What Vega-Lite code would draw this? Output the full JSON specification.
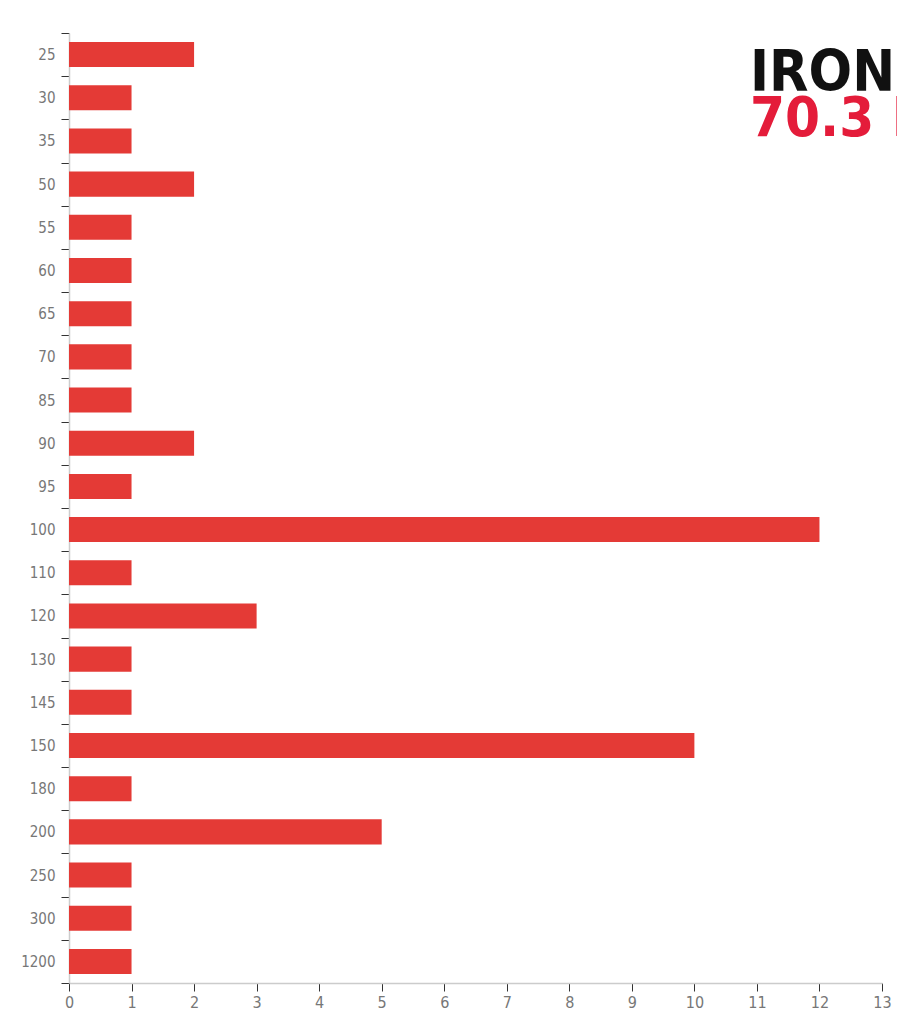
{
  "$schema": "https://vega.github.io/schema/vega-lite/v6.json",
  "autosize": {"type": "none"},
  "padding": {"left": 69, "top": 33, "right": 15, "bottom": 31},
  "width": 813,
  "height": 950,
  "background": "#ffffff",
  "title": {
    "text": "IRONMAN",
    "subtitle": "70.3 LANZAROTE",
    "anchor": "start",
    "frame": "group",
    "orient": "top",
    "dx": 681,
    "offset": -122,
    "font": "DejaVu Sans Condensed, sans-serif",
    "fontSize": 57,
    "fontWeight": "bold",
    "color": "#111111",
    "subtitleFont": "DejaVu Sans Condensed, sans-serif",
    "subtitleFontSize": 56,
    "subtitleFontWeight": "bold",
    "subtitleColor": "#e41c3a",
    "subtitlePadding": -11
  },
  "data": {
    "values": [
      {"distancia": 25, "n": 2},
      {"distancia": 30, "n": 1},
      {"distancia": 35, "n": 1},
      {"distancia": 50, "n": 2},
      {"distancia": 55, "n": 1},
      {"distancia": 60, "n": 1},
      {"distancia": 65, "n": 1},
      {"distancia": 70, "n": 1},
      {"distancia": 85, "n": 1},
      {"distancia": 90, "n": 2},
      {"distancia": 95, "n": 1},
      {"distancia": 100, "n": 12},
      {"distancia": 110, "n": 1},
      {"distancia": 120, "n": 3},
      {"distancia": 130, "n": 1},
      {"distancia": 145, "n": 1},
      {"distancia": 150, "n": 10},
      {"distancia": 180, "n": 1},
      {"distancia": 200, "n": 5},
      {"distancia": 250, "n": 1},
      {"distancia": 300, "n": 1},
      {"distancia": 1200, "n": 1}
    ]
  },
  "mark": {"type": "bar", "color": "#e43a36", "height": {"band": 0.58}},
  "encoding": {
    "y": {
      "field": "distancia",
      "type": "ordinal",
      "sort": "ascending",
      "scale": {"paddingInner": 0, "paddingOuter": 0},
      "axis": {
        "title": null,
        "tickBand": "extent",
        "tickSize": 8,
        "tickColor": "#333333",
        "domainColor": "#cccccc",
        "domainWidth": 1.5,
        "labelPadding": 6,
        "labelFont": "DejaVu Sans Condensed, sans-serif",
        "labelFontSize": 15,
        "labelColor": "#777777",
        "grid": false
      }
    },
    "x": {
      "field": "n",
      "type": "quantitative",
      "scale": {"domain": [0, 13], "nice": false},
      "axis": {
        "title": null,
        "values": [0,1,2,3,4,5,6,7,8,9,10,11,12,13],
        "tickSize": 8,
        "tickColor": "#333333",
        "domainColor": "#cccccc",
        "domainWidth": 1.5,
        "labelPadding": 3,
        "labelFont": "DejaVu Sans Condensed, sans-serif",
        "labelFontSize": 16,
        "labelColor": "#777777",
        "labelFlush": false,
        "grid": false
      }
    }
  },
  "config": {"view": {"stroke": null}}
}
